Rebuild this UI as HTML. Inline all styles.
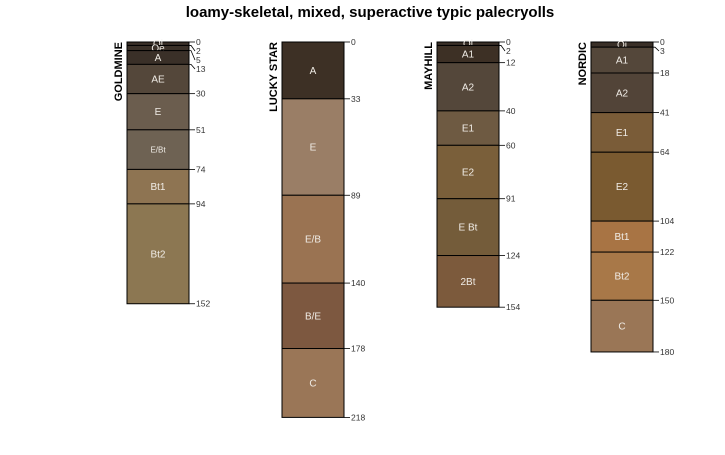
<!DOCTYPE html>
<html><head><meta charset="utf-8"><style>
body{margin:0;background:#fff;}
svg{font-family:"Liberation Sans",sans-serif;}
</style></head><body>
<svg id="chart" width="725" height="450">
<text x="370" y="17" text-anchor="middle" font-size="15" font-weight="bold">loamy-skeletal, mixed, superactive typic palecryolls</text>
</svg>
<script>
const profileNames = ["GOLDMINE","LUCKY STAR","MAYHILL","NORDIC"];
const gmHz = ["Oi","Oe","A","AE","E","E/Bt","Bt1","Bt2"];
const gmTop = [0,2,5,13,30,51,74,94];
const gmBot = [2,5,13,30,51,74,94,152];
const gmCol = ["#3a3028","#3a3028","#3a3028","#54473a","#6b5d4e","#6e6253","#8e7452","#8c7752"];
const lsHz = ["A","E","E/B","B/E","C"];
const lsTop = [0,33,89,140,178];
const lsBot = [33,89,140,178,218];
const lsCol = ["#3d3025","#9a7e66","#9a7352","#7d5840","#9a7657"];
const mhHz = ["Oi","A1","A2","E1","E2","E Bt","2Bt"];
const mhTop = [0,2,12,40,60,91,124];
const mhBot = [2,12,40,60,91,124,154];
const mhCol = ["#3a3028","#3d3025","#54473a","#6e5a42","#7a5f3a","#745c3a","#7c5a3c"];
const ndHz = ["Oi","A1","A2","E1","E2","Bt1","Bt2","C"];
const ndTop = [0,3,18,41,64,104,122,150];
const ndBot = [3,18,41,64,104,122,150,180];
const ndCol = ["#3a3028","#54473a","#524438","#7a5c38","#7a5a30","#a87444","#a87848","#9a7656"];

const profiles=[[gmHz,gmTop,gmBot,gmCol],[lsHz,lsTop,lsBot,lsCol],[mhHz,mhTop,mhBot,mhCol],[ndHz,ndTop,ndBot,ndCol]];
const svg=document.getElementById('chart');
const NS='http://www.w3.org/2000/svg';
const x0=[127,282,437,591], W=62, Y0=42, K=1.722;
const y=d=>Y0+d*K;
function mk(t,a){const e=document.createElementNS(NS,t);for(const k in a)e.setAttribute(k,a[k]);svg.appendChild(e);return e;}
profiles.forEach((p,i)=>{
  const [hz,top,bot,col]=p, xl=x0[i];
  const slug=profileNames[i].toLowerCase().replace(' ','-');
  hz.forEach((h,j)=>{
    const r=mk('rect',{x:xl,y:y(top[j]),width:W,height:y(bot[j])-y(top[j]),fill:col[j],stroke:'#000','stroke-width':1});
    
    
    const fs=h==='E/Bt'?8:10;
    const t=mk('text',{x:xl+W/2,y:(y(top[j])+y(bot[j]))/2+fs*0.35,'text-anchor':'middle','font-size':fs,fill:'#f0ece6'});
    t.textContent=h;
    
    
  });
  const depths=top.concat([bot[bot.length-1]]);
  let ly=[];let prev=-1e9;
  depths.forEach(d=>{let v=Math.max(y(d),prev+9);ly.push(v);prev=v;});
  depths.forEach((d,j)=>{
    const xr=xl+W;
    const l=mk('polyline',{points:`${xr},${y(d)} ${xr+2},${y(d)} ${xr+6},${ly[j]}`,fill:'none',stroke:'#000','stroke-width':0.8});
    
    
    const t=mk('text',{x:xr+7,y:ly[j]+3,'font-size':8.5,fill:'#333'});
    t.textContent=d;
    
    
  });
  const n=mk('text',{transform:`translate(${xl-5},${Y0}) rotate(-90)`,'text-anchor':'end','font-size':11,'font-weight':'bold'});
  n.textContent=profileNames[i];
  
  
});
</script>
</body></html>
